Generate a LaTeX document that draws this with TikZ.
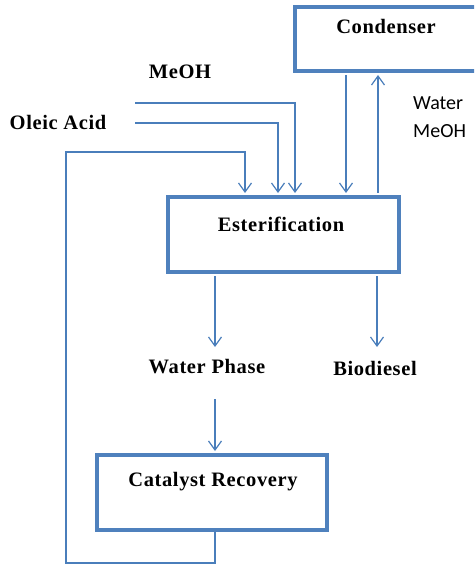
\documentclass[tikz,border=0pt]{standalone}
\usepackage{fontspec}
\setmainfont{Liberation Serif}
\newfontfamily\calfont{Carlito}
\newfontfamily\titlefont[LetterSpace=3]{Liberation Serif}
\usetikzlibrary{arrows.meta}
\definecolor{boxblue}{HTML}{4F81BD}
\definecolor{lineblue}{HTML}{4A7EBB}
\begin{document}
\begin{tikzpicture}[x=1pt,y=-1pt,
  procbox/.style={draw=boxblue,line width=4pt,rectangle,inner sep=0pt,fill=white},
  title/.style={font=\titlefont\fontsize{20.5}{24}\selectfont\bfseries,inner sep=0pt},
  sidelabel/.style={font=\calfont\fontsize{20}{24}\selectfont,inner sep=0pt,anchor=west},
  flow/.style={draw=lineblue,line width=1.2pt},
  arr/.style={flow,-{Straight Barb[length=9pt,width=13pt,line width=1.2pt]}}]
\useasboundingbox (0,0) rectangle (474,567);
\clip (0,0) rectangle (474,567);
% boxes
\node[procbox,minimum width=195pt,minimum height=64pt] (cond) at (392.5,39) {};
\node[procbox,minimum width=231pt,minimum height=75pt] (est) at (283.5,234.5) {};
\node[procbox,minimum width=230pt,minimum height=75pt] (cat) at (212,492.5) {};
% box titles
\node[title] (condt) at (386,26) {Condenser};
\node[title] (estt) at (281,224) {Esterification};
\node[title] (catt) at (213,482) {Catalyst Recovery};
% labels
\node[title] (meoh) at (180,72) {MeOH};
\node[title] (oleic) at (58,122) {Oleic Acid};
\node[sidelabel] (water) at (413,103) {Water};
\node[sidelabel] (meoh2) at (413,131) {MeOH};
\node[title] (wp) at (207,367) {Water Phase};
\node[title] (bio) at (375,368) {Biodiesel};
% coordinates
\coordinate (m0) at (135,103);
\coordinate (o0) at (135,123);
\coordinate (r1) at (215,563);
\coordinate (r2) at (66,563);
\coordinate (r3) at (66,152);
\coordinate (r4) at (245,152);
\coordinate (wpend) at (215,347);
\coordinate (bioend) at (377,347);
\coordinate (wpstart) at (215,399);
% feeds
\draw[arr,shorten >=2pt] (m0) -| (est.north -| 295,0);
\draw[arr,shorten >=2pt] (o0) -| (est.north -| 278,0);
\draw[arr,shorten >=2pt] (cat.south -| 215,0) -- (r1) -- (r2) -- (r3) -- (r4) -- (est.north -| 245,0);
% condenser loop
\draw[arr,shorten >=2pt,shorten <=2pt] (cond.south -| 346,0) -- (est.north -| 346,0);
\draw[arr,shorten >=2pt,shorten <=2pt] (est.north -| 378,0) -- (cond.south -| 378,0);
% products
\draw[arr,shorten <=2pt] (est.south -| 215,0) -- (wpend);
\draw[arr,shorten <=2pt] (est.south -| 377,0) -- (bioend);
\draw[arr,shorten >=2pt] (wpstart) -- (cat.north -| 215,0);
\end{tikzpicture}
\end{document}
